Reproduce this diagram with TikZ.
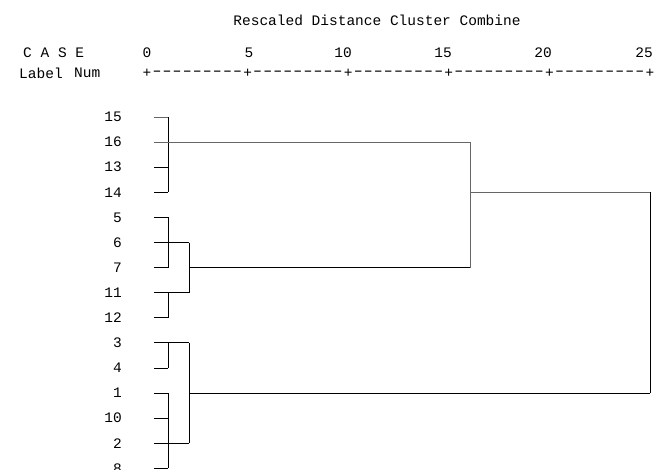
\documentclass[tikz,border=0pt]{standalone}
\usepackage{fontspec}
\setmonofont{Liberation Mono}
\begin{document}
\begin{tikzpicture}[x=1pt,y=-1pt,
  txt/.style={font=\ttfamily\fontsize{14.5}{16}\selectfont, inner sep=0pt, text=black},
  link/.style={draw=black, line width=0.9pt},
  softlink/.style={draw=black!60, line width=0.9pt}]
\useasboundingbox[fill=white] (0,0) rectangle (656,469);

% headings
\node[txt] (title) at (377,20) {Rescaled Distance Cluster Combine};
\node[txt, anchor=west] (case) at (23,53) {C A S E};
\node[txt, anchor=west] (label) at (19,73) {Label};
\node[txt, anchor=west] (num) at (74,73) {Num};

% scale numbers
\foreach \v/\xx in {0/147, 5/249, 10/343, 15/443, 20/543, 25/644}
  \node[txt] (tick\v) at (\xx,53) {\v};

% ruler built from characters
\foreach \i in {0,...,50}{
  \pgfmathtruncatemacro{\r}{mod(\i,10)}
  \ifnum\r=0
    \node[txt] (rule\i) at ({147+\i*10.06},73) {+};
  \else
    \node[txt] (rule\i) at ({147+\i*10.06},73) {\scalebox{1.6}[1]{-}};
  \fi
}

% case labels and leaf start points
\foreach \c [count=\k from 0] in {15,16,13,14,5,6,7,11,12,3,4,1,10,2,8}{
  \node[txt, anchor=east] (l\c) at (122,{117+\k*25.1}) {\c};
  \coordinate (p\c) at (154,{117+\k*25.1});
}

% cluster A: 15 16 13 14
\draw[softlink] (p15) -- ++(14,0);
\draw[link] (p13) -- ++(14,0);
\draw[link] (p14) -- ++(14,0);
\draw[link] ([xshift=14pt]p15) -- ([xshift=14pt]p14);
\coordinate (a) at ([xshift=316pt]p16);
\draw[softlink] (p16) -- (a);

% cluster B: 5 6 7 | 11 12
\draw[link] (p5) -- ++(14,0);
\draw[link] (p6) -- ++(35,0);
\draw[link] (p7) -- ++(14,0);
\draw[link] ([xshift=14pt]p5) -- ([xshift=14pt]p7);
\draw[link] (p11) -- ++(35,0);
\draw[link] (p12) -- ++(14,0);
\draw[link] ([xshift=14pt]p11) -- ([xshift=14pt]p12);
\draw[link] ([xshift=35pt]p6) -- ([xshift=35pt]p11);
\coordinate (b) at ([xshift=316pt]p7);
\draw[link] ([xshift=35pt]p7) -- (b);

% join of A and B
\draw[softlink] (a) -- (b);
\coordinate (ab) at ([xshift=316pt]p14);
\coordinate (top) at ([xshift=496pt]p14);
\draw[softlink] (ab) -- (top);

% cluster C: 3 4 | 1 10 2 8
\draw[link] (p3) -- ++(35,0);
\draw[link] (p4) -- ++(14,0);
\draw[link] ([xshift=14pt]p3) -- ([xshift=14pt]p4);
\draw[link] (p1) -- ++(14,0);
\draw[link] (p10) -- ++(14,0);
\draw[link] (p2) -- ++(35,0);
\draw[link] (p8) -- ++(14,0);
\draw[link] ([xshift=14pt]p1) -- ([xshift=14pt]p8);
\draw[link] ([xshift=35pt]p3) -- ([xshift=35pt]p2);
\coordinate (c) at ([xshift=496pt]p1);
\draw[link] ([xshift=35pt]p1) -- (c);

% final join
\draw[link] (top) -- (c);
\end{tikzpicture}
\end{document}
